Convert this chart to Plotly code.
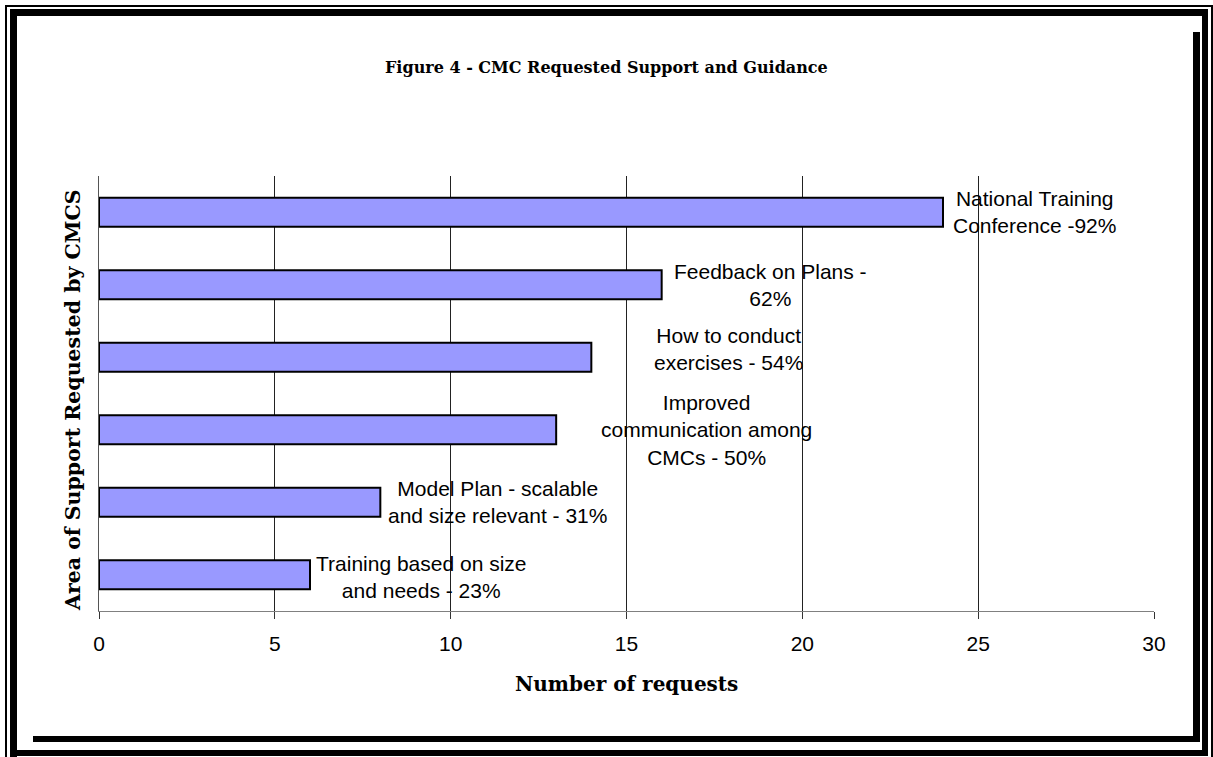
import plotly.graph_objects as go

# ---- data ----
categories = [
    "National Training Conference",
    "Feedback on Plans",
    "How to conduct exercises",
    "Improved communication among CMCs",
    "Model Plan - scalable and size relevant",
    "Training based on size and needs",
]
requests = [24, 16, 14, 13, 8, 6]
percents = [92, 62, 54, 50, 31, 23]
label_texts = [
    "National Training<br>Conference -92%",
    "Feedback on Plans -<br>62%",
    "How to conduct<br>exercises - 54%",
    "Improved<br>communication among<br>CMCs - 50%",
    "Model Plan - scalable<br>and size relevant - 31%",
    "Training based on size<br>and needs - 23%",
]
x_ticks = [0, 5, 10, 15, 20, 25, 30]

title_text = "Figure 4 - CMC Requested Support and Guidance"
x_title = "Number of requests"
y_title = "Area of Support Requested by CMCS"

# ---- layout geometry (pixels) ----
W, H = 1213, 757
L, R, T, B = 99, 1154, 176, 611
label_xshift = [91, 109, 137, 150, 117, 111]
label_yshift = [0, 0, 8, 0, 0, -2]

def px(x):
    return (x - L) / (R - L)

def py(y):
    return (B - y) / (B - T)

fig = go.Figure()
fig.add_trace(go.Bar(
    x=requests, y=categories, orientation="h",
    marker=dict(color="#9999FF", line=dict(color="black", width=2)),
    showlegend=False, hoverinfo="x+y",
))

annotations = []
for cat, val, txt, dx, dy in zip(categories, requests, label_texts, label_xshift, label_yshift):
    annotations.append(dict(
        x=val, y=cat, xref="x", yref="y", text=txt, showarrow=False,
        xanchor="center", yanchor="middle", align="center",
        xshift=dx, yshift=dy,
        font=dict(family="Liberation Sans, Arial", size=21, color="black"),
    ))

serif = "DejaVu Serif"
annotations.append(dict(
    x=px(606), y=py(68), xref="paper", yref="paper", text="<b>" + title_text + "</b>",
    showarrow=False, xanchor="center", yanchor="middle",
    font=dict(family=serif, size=16, color="black"),
))
annotations.append(dict(
    x=0.5, y=py(684), xref="paper", yref="paper", text="<b>" + x_title + "</b>",
    showarrow=False, xanchor="center", yanchor="middle",
    font=dict(family=serif, size=20, color="black"),
))
annotations.append(dict(
    x=px(73), y=py(400), xref="paper", yref="paper", text="<b>" + y_title + "</b>",
    showarrow=False, xanchor="center", yanchor="middle", textangle=-90,
    font=dict(family=serif, size=20.5, color="black"),
))

# ---- frame (Word-style border with shadow) ----
def band(x0, y0, x1, y1):
    return dict(type="rect", xref="paper", yref="paper",
                x0=px(x0), x1=px(x1), y0=py(y1), y1=py(y0),
                fillcolor="black", line=dict(width=0), layer="above")

shapes = [
    band(5, 5, 1213, 7),      # thin outer top
    band(5, 5, 7, 757),       # thin outer left
    band(1211, 5, 1213, 757), # thin outer right
    band(10, 9, 1208, 16),    # thick top
    band(10, 9, 17, 757),     # thick left
    band(1202, 9, 1208, 756), # thick right
    band(10, 750, 1208, 756), # thick bottom
    band(1193, 32, 1200, 742),# shadow right
    band(33, 736, 1200, 742), # shadow bottom
]

fig.update_layout(
    width=W, height=H,
    margin=dict(l=L, r=W - R, t=T, b=H - B, pad=0),
    paper_bgcolor="white", plot_bgcolor="white",
    bargap=0.6,
    annotations=annotations,
    shapes=shapes,
    xaxis=dict(
        range=[0, 30], tickvals=x_ticks, ticktext=[str(t) for t in x_ticks],
        showgrid=True, gridcolor="#222222", gridwidth=1,
        showline=True, linecolor="#808080", linewidth=1,
        ticks="outside", ticklen=7, tickcolor="#333333",
        tickfont=dict(family="Liberation Sans, Arial", size=21, color="black"),
        ticklabelstandoff=7,
        zeroline=False, fixedrange=True,
    ),
    yaxis=dict(
        autorange="reversed", showticklabels=False,
        showgrid=False, zeroline=False,
        showline=True, linecolor="#555555", linewidth=1,
        ticks="", fixedrange=True,
    ),
)

fig.write_html("out.html")
